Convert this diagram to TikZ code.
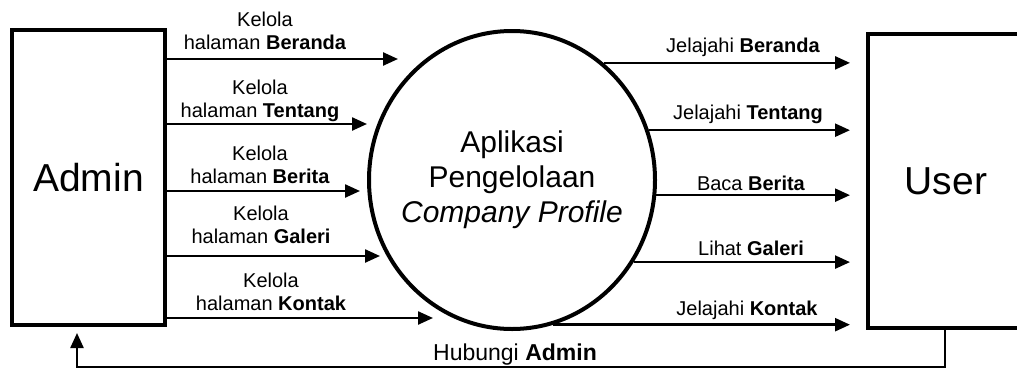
\documentclass[tikz,border=0pt]{standalone}
\usepackage{fontspec}
\setmainfont{Liberation Sans}
\usetikzlibrary{arrows.meta,shapes.geometric}
\newcommand{\twolines}[2]{\begin{tabular}[b]{@{}c@{}}#1\\#2\end{tabular}}
\begin{document}
\begin{tikzpicture}[x=1pt,y=-1pt,
  entity/.style={draw, line width=4pt, inner sep=0pt, font=\fontsize{39}{44}\selectfont},
  flow/.style={line width=2.4pt, -{Triangle[length=15pt,width=13pt]}},
  lbl/.style={font=\fontsize{20}{23}\selectfont, inner sep=0pt, anchor=base},
]
\useasboundingbox (0,0) rectangle (1017,370);
\clip (0,0) rectangle (1017,370);
% entities
\node[entity, minimum width=153pt, minimum height=295pt] (admin) at (88.5,177.5) {Admin};
\node[entity, minimum width=156pt, minimum height=294pt] (user) at (946,181) {User};
% process
\node[draw, ellipse, line width=4pt, minimum width=286pt, minimum height=298pt, inner sep=0pt] (circ) at (512,180) {};
\node[align=center, font=\fontsize{30}{35}\selectfont, inner sep=0pt] (ctext) at (circ.center) {Aplikasi\\Pengelolaan\\\textit{Company Profile}};
% left arrow tips
\coordinate (t1) at (398,59);
\coordinate (t2) at (367,124);
\coordinate (t3) at (360,191);
\coordinate (t4) at (380,256);
\coordinate (t5) at (433,318);
\draw[flow] (admin.east |- t1) -- (t1);
\draw[flow] (admin.east |- t2) -- (t2);
\draw[flow] (admin.east |- t3) -- (t3);
\draw[flow] (admin.east |- t4) -- (t4);
\draw[flow] (admin.east |- t5) -- (t5);
\node[lbl] (l1) at (265,49) {\twolines{Kelola}{halaman \textbf{Beranda}}};
\node[lbl] (l2) at (260,117) {\twolines{Kelola}{halaman \textbf{Tentang}}};
\node[lbl] (l3) at (260,183) {\twolines{Kelola}{halaman \textbf{Berita}}};
\node[lbl] (l4) at (261,243) {\twolines{Kelola}{halaman \textbf{Galeri}}};
\node[lbl] (l5) at (271,310) {\twolines{Kelola}{halaman \textbf{Kontak}}};
% right arrows
\draw[flow, shorten >=16pt] (circ.52.3) -- (circ.52.3 -| user.west);
\draw[flow, shorten >=16pt] (circ.20.4) -- (circ.20.4 -| user.west);
\draw[flow, shorten >=16pt] (circ.-6.8) -- (circ.-6.8 -| user.west);
\draw[flow, shorten >=16pt] (circ.-34.5) -- (circ.-34.5 -| user.west);
\draw[flow, shorten >=16pt] (circ.-74.3) -- (circ.-74.3 -| user.west);
\node[lbl] (r1) at (743,52) {Jelajahi \textbf{Beranda}};
\node[lbl] (r2) at (748,119) {Jelajahi \textbf{Tentang}};
\node[lbl] (r3) at (751,190) {Baca \textbf{Berita}};
\node[lbl] (r4) at (751,255) {Lihat \textbf{Galeri}};
\node[lbl] (r5) at (747,315) {Jelajahi \textbf{Kontak}};
% feedback
\coordinate (fbR) at (945,367);
\coordinate (fbL) at (77,367);
\draw[flow, shorten >=6pt] (user.south -| fbR) -- (fbR) -- (fbL) -- (admin.south -| fbL);
\node[lbl, font=\fontsize{23}{26}\selectfont] (hub) at (515,360) {Hubungi \textbf{Admin}};
\end{tikzpicture}
\end{document}
